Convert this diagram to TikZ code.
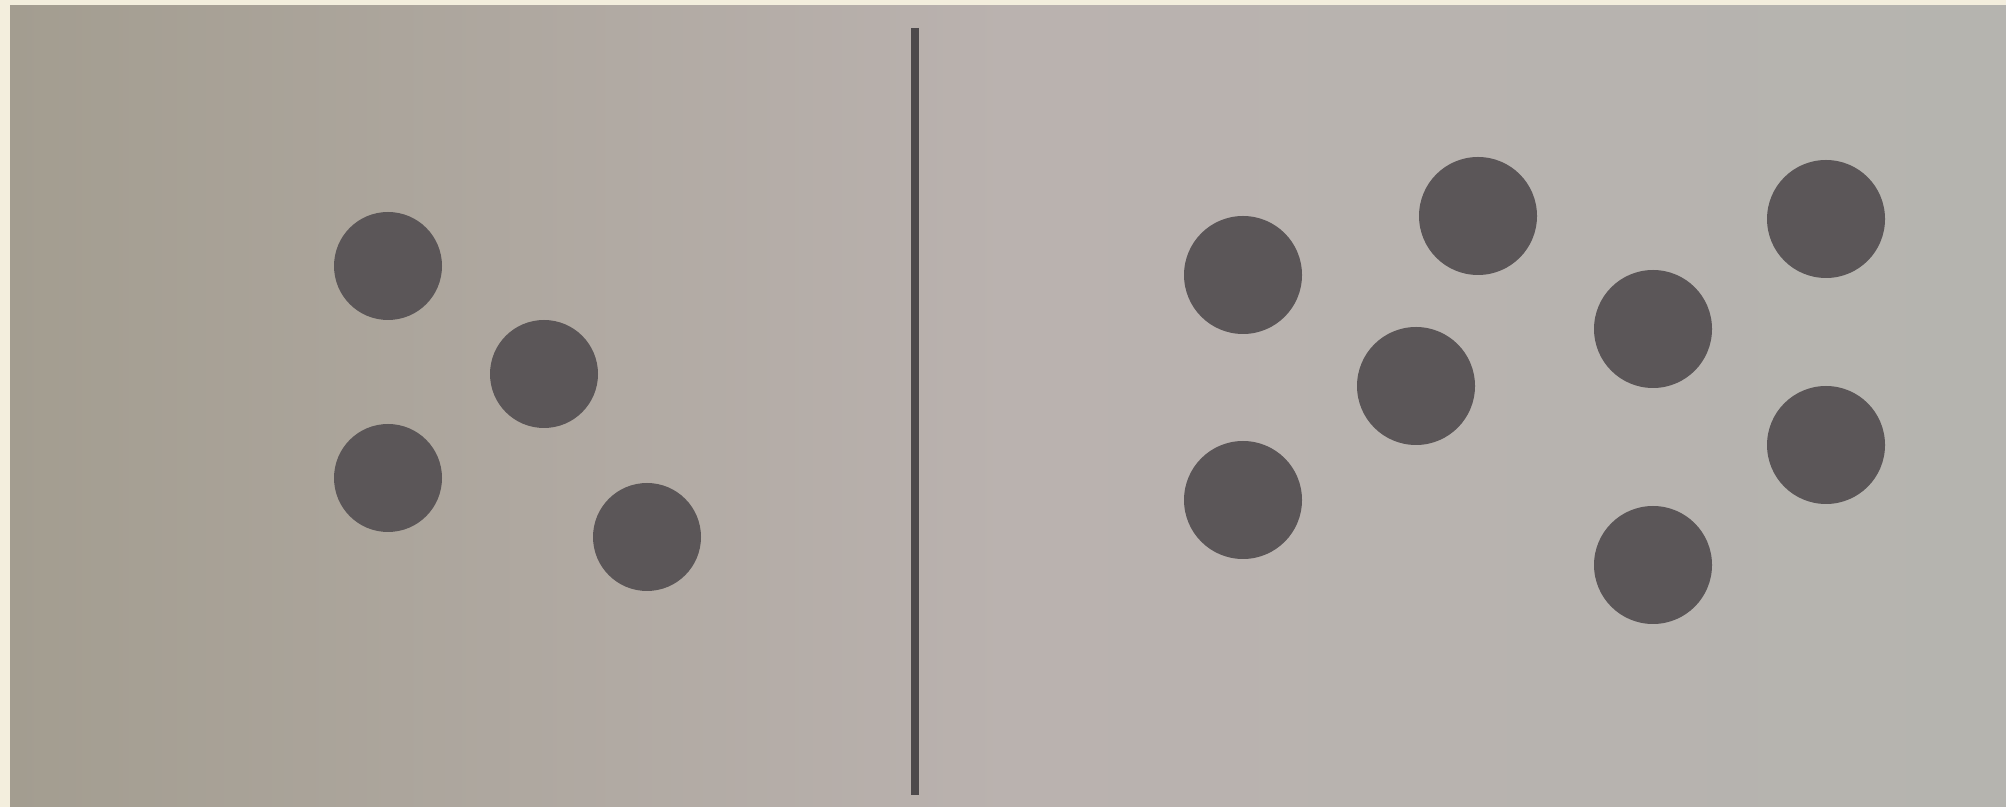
\documentclass[tikz,border=0pt]{standalone}
\usetikzlibrary{positioning}
\definecolor{marco}{HTML}{F3EEDD}
\definecolor{papelA}{HTML}{A39D90}
\definecolor{papelB}{HTML}{BAB2AF}
\definecolor{papelC}{HTML}{B5B4AF}
\definecolor{tinta}{HTML}{5B5658}
\tikzset{
  punto/.style={fill=tinta},
  raya/.style={draw=tinta!85!black, line width=2.4pt}
}
\begin{document}
\begin{tikzpicture}[x=0.01cm, y=-0.01cm]
        % Marco y papel
        \fill[marco] (0,0) rectangle (2006,807);
        \shade[left color=papelA, right color=papelC, middle color=papelB] (10,6) rectangle (2006,807);
        \useasboundingbox (0,0) rectangle (2006,807);

        % Grupo izquierdo
        \begin{scope}
            \foreach \x/\y in {388/266, 544/374, 388/478, 647/537}
                \fill[punto] (\x,\y) circle (54);
        \end{scope}

        % Separador
        \draw[raya] (915,28) -- (915,795);

        % Grupo derecho
        \begin{scope}
            \foreach \x/\y in {1243/275, 1478/216, 1416/386, 1653/329,
                               1826/219, 1826/445, 1243/500, 1653/565}
                \fill[punto] (\x,\y) circle (59);
        \end{scope}
    \end{tikzpicture}
\end{document}
